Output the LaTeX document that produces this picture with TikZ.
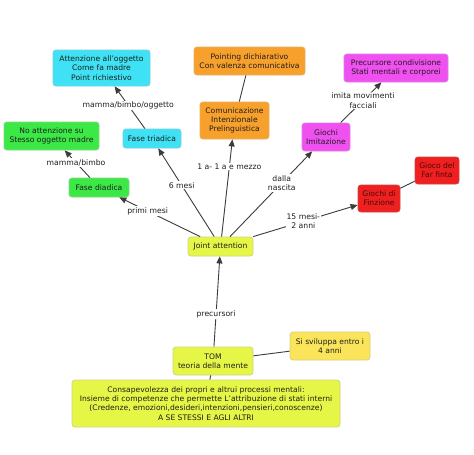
\documentclass[tikz,border=0pt]{standalone}
\usepackage{fontspec}
\setmainfont{DejaVu Sans}
\usetikzlibrary{arrows.meta}
\definecolor{txt}{RGB}{30,30,30}
\definecolor{linec}{RGB}{60,60,60}
\definecolor{cyanf}{RGB}{62,226,244}
\definecolor{cyand}{RGB}{120,205,225}
\definecolor{orangef}{RGB}{248,160,44}
\definecolor{oranged}{RGB}{230,175,100}
\definecolor{magf}{RGB}{240,80,240}
\definecolor{magd}{RGB}{220,130,220}
\definecolor{greenf}{RGB}{60,232,70}
\definecolor{greend}{RGB}{130,215,130}
\definecolor{redf}{RGB}{240,32,32}
\definecolor{redd}{RGB}{205,70,70}
\definecolor{redt}{RGB}{70,10,10}
\definecolor{ygf}{RGB}{230,246,70}
\definecolor{ygd}{RGB}{205,215,130}
\definecolor{yelf}{RGB}{250,228,90}
\definecolor{yeld}{RGB}{222,205,130}
\begin{document}
\begin{tikzpicture}[x=1pt,y=-1pt,
  box/.style={draw, rounded corners=3pt, align=center, inner sep=0pt,
    font=\fontsize{7.6}{9.3}\selectfont, text=txt, line width=0.8pt},
  cy/.style={box, fill=cyanf, draw=cyand},
  og/.style={box, fill=orangef, draw=oranged},
  mg/.style={box, fill=magf, draw=magd},
  gr/.style={box, fill=greenf, draw=greend},
  rd/.style={box, fill=redf, draw=redd, text=redt},
  yg/.style={box, fill=ygf, draw=ygd},
  yl/.style={box, fill=yelf, draw=yeld},
  conn/.style={draw=linec, line width=0.9pt},
  arr/.style={conn, -{Triangle[length=7pt,width=6pt]}},
  lbl/.style={fill=white, inner sep=1pt, align=center,
    font=\fontsize{7.7}{9.3}\selectfont, text=txt}]
\fill[white] (0,0) rectangle (474,455);
\useasboundingbox (0,0) rectangle (474,455);

\node[cy, minimum width=97pt, minimum height=36pt] (att) at (101.5,68) {Attenzione all’oggetto\\Come fa madre\\Point richiestivo};
\node[og, minimum width=111pt, minimum height=28pt] (pd) at (249.5,61) {Pointing dichiarativo\\Con valenza comunicativa};
\node[mg, minimum width=104pt, minimum height=28pt] (pc) at (396,68) {Precursore condivisione\\Stati mentali e corporei};
\node[gr, minimum width=95pt, minimum height=28pt] (na) at (51.5,136) {No attenzione su\\Stesso oggetto madre};
\node[cy, minimum width=58pt, minimum height=19pt] (ft) at (152,138.5) {Fase triadica};
\node[og, minimum width=69pt, minimum height=37pt] (ci) at (234.5,120.5) {Comunicazione\\Intenzionale\\Prelinguistica};
\node[mg, minimum width=48pt, minimum height=28pt] (gi) at (326,137) {Giochi\\Imitazione};
\node[rd, minimum width=44pt, minimum height=27pt] (gft) at (437,170.5) {Gioco del\\Far finta};
\node[gr, minimum width=60pt, minimum height=19pt] (fd) at (99,187.5) {Fase diadica};
\node[rd, minimum width=42pt, minimum height=27pt] (gf) at (379,198.5) {Giochi di\\Finzione};
\node[yg, minimum width=65pt, minimum height=19pt] (ja) at (220.5,246.5) {Joint attention};
\node[yg, minimum width=80pt, minimum height=28pt] (tom) at (213,361) {TOM\\teoria della mente};
\node[yl, minimum width=80pt, minimum height=28pt] (ss) at (330,346) {Si sviluppa entro i\\4 anni};
\node[yg, minimum width=268pt, minimum height=47pt] (cons) at (206,403.5) {Consapevolezza dei propri e altrui processi mentali:\\Insieme di competenze che permette L’attribuzione di stati interni\\(Credenze, emozioni,desideri,intenzioni,pensieri,conoscenze)\\A SE STESSI E AGLI ALTRI};

\draw[arr] (ft) -- node[lbl, pos=0.55] {mamma/bimbo/oggetto} (att);
\draw[arr] (fd) -- node[lbl, pos=0.55] {mamma/bimbo} (na);
\draw[arr] (ja) -- node[lbl, pos=0.65] {primi mesi} (fd);
\draw[arr] (ja) -- node[lbl, pos=0.58] {6 mesi} (ft);
\draw[arr] (ja) -- node[lbl, pos=0.72] {1 a- 1 a e mezzo} (ci);
\draw[conn] (ci) -- (pd);
\draw[arr] (ja) -- node[lbl, pos=0.63] {dalla\\nascita} (gi);
\draw[arr] (gi) -- node[lbl, pos=0.55] {imita movimenti\\facciali} (pc);
\draw[arr] (ja) -- node[lbl, pos=0.48] {15 mesi-\\2 anni} (gf);
\draw[conn] (gf) -- (gft);
\draw[arr] (tom) -- node[lbl, pos=0.36] {precursori} (ja);
\draw[conn] (tom) -- (ss);
\draw[conn] (tom) -- (cons);
\end{tikzpicture}
\end{document}
